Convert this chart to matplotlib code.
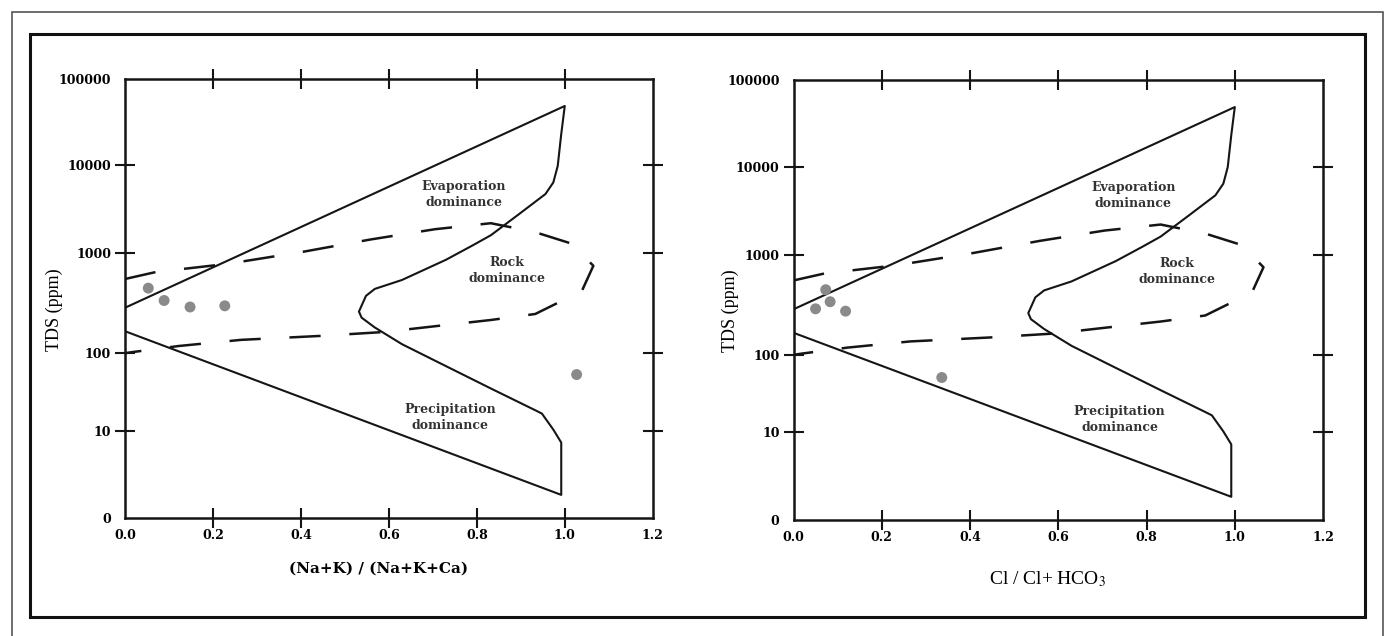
import numpy as np
import matplotlib
matplotlib.use("Agg")
import matplotlib.pyplot as plt
from matplotlib.patches import Rectangle
from matplotlib.ticker import NullLocator

# ---------------------------------------------------------------------------
# data
# ---------------------------------------------------------------------------
# Gibbs envelope, one polyline: lower edge -> right side -> nose -> upper edge
ENV_X = [0.0, 0.992, 0.992, 0.974, 0.948, 0.934, 0.832, 0.730, 0.630, 0.568,
         0.538, 0.532, 0.548, 0.568, 0.630, 0.730, 0.791, 0.832, 0.893, 0.956,
         0.974, 0.984, 0.992, 1.0, 0.0]
ENV_TDS = [166, 1.84, 7.3, 10.3, 16.6, 18.2, 35, 68, 123, 181,
           227, 261, 375, 440, 541, 862, 1234, 1606, 2720, 4720,
           6400, 9870, 23100, 48700, 285]

# rock-dominance boundary (dashed)
ROCK_X = [0.0, 0.070, 0.234, 0.406, 0.558, 0.705, 0.832, 0.933, 1.015, 1.065,
          1.040, 0.989, 0.933, 0.832, 0.750, 0.589, 0.445, 0.264, 0.122, 0.020, 0.0]
ROCK_TDS = [553, 649, 785, 1043, 1435, 1880, 2200, 1738, 1291, 750,
            430, 327, 247, 215, 196, 163, 149, 136, 118, 103, 100]

# samples
NA_RATIO = [0.053, 0.089, 0.148, 0.227, 1.027]
TDS_LEFT = [448, 337, 290, 298, 53]
CL_RATIO = [0.050, 0.083, 0.073, 0.118, 0.336]
TDS_RIGHT = [288, 339, 447, 273, 51]

X_TICKS = [0.0, 0.2, 0.4, 0.6, 0.8, 1.0, 1.2]
X_LABELS = ["0.0", "0.2", "0.4", "0.6", "0.8", "1.0", "1.2"]
Y_TICKS = [1, 10, 100, 1000, 10000, 100000]
Y_LABELS = ["0", "10", "100", "1000", "10000", "100000"]

REGIONS = [("Evaporation\ndominance", 0.77, 4720),
           ("Rock\ndominance", 0.868, 680),
           ("Precipitation\ndominance", 0.739, 14.7)]

# the hand-drawn log axis has uneven decades; map log10(TDS) onto them
DECADE = [0, 1, 2, 3, 4, 5]
DECADE_POS = [0, 87.5, 165, 265, 353, 439.5]


def fwd(v):
    v = np.clip(np.asarray(v, dtype=float), 1e-3, None)
    return np.interp(np.log10(v), DECADE, DECADE_POS)


def inv(p):
    return 10 ** np.interp(p, DECADE_POS, DECADE)


TICK_FONT = dict(family="DejaVu Serif", weight="bold", size=9)


def gibbs_panel(ax, xs, tds, xlabel, xlabel_kw, ylab_x, xlab_y):
    ax.set_yscale("function", functions=(fwd, inv))
    ax.plot(ENV_X, ENV_TDS, color="#151515", lw=1.5, solid_joinstyle="round")
    ax.plot(ROCK_X, ROCK_TDS, color="#151515", lw=1.8, ls=(0, (12.5, 11.5)))
    ax.scatter(xs, tds, s=62, color="#8a8a8a", edgecolors="none", zorder=3)

    for txt, x, y in REGIONS:
        ax.text(x, y, txt, ha="center", va="center", ma="center",
                linespacing=1.3, color="#333333",
                family="DejaVu Serif", weight="bold", size=9)

    ax.set_xlim(0, 1.2)
    ax.set_ylim(1, 100000)
    ax.set_xticks(X_TICKS)
    ax.set_xticklabels(X_LABELS, fontdict=TICK_FONT)
    ax.set_yticks(Y_TICKS)
    ax.set_yticklabels(Y_LABELS, fontdict=TICK_FONT)
    ax.yaxis.set_minor_locator(NullLocator())
    ax.xaxis.set_minor_locator(NullLocator())
    ax.tick_params(direction="inout", length=14, width=1.5, color="#151515",
                   top=True, right=True, pad=3)
    ax.tick_params(axis="x", pad=1)
    # corner ticks are not drawn in the original
    for t in (ax.xaxis.get_major_ticks()[0], ax.xaxis.get_major_ticks()[-1],
              ax.yaxis.get_major_ticks()[0], ax.yaxis.get_major_ticks()[-1]):
        t.tick1line.set_visible(False)
        t.tick2line.set_visible(False)
    for s in ax.spines.values():
        s.set_linewidth(1.8)
        s.set_color("#151515")

    ax.set_ylabel("TDS (ppm)", family="Liberation Serif", size=13)
    ax.yaxis.set_label_coords(ylab_x, 0.475)
    ax.set_xlabel(xlabel, **xlabel_kw)
    ax.xaxis.set_label_coords(0.48, xlab_y)


plt.rcParams["mathtext.fontset"] = "stix"
fig = plt.figure(figsize=(13.87, 6.36), dpi=100)

ax1 = fig.add_axes([0.0901, 0.1855, 0.3805, 0.6903])
ax2 = fig.add_axes([0.5721, 0.1824, 0.3818, 0.6918])

gibbs_panel(ax1, NA_RATIO, TDS_LEFT, "(Na+K) / (Na+K+Ca)",
            dict(family="DejaVu Serif", weight="bold", size=11),
            -0.118, -0.10)
gibbs_panel(ax2, CL_RATIO, TDS_RIGHT, r"Cl / Cl+ HCO$_3$",
            dict(family="Liberation Serif", size=14),
            -0.103, -0.112)

# double frame round the whole figure
fig.add_artist(Rectangle((0.0087, -0.02), 0.9884, 1.0011, transform=fig.transFigure,
                         fill=False, lw=1.2, ec="#555555"))
fig.add_artist(Rectangle((0.0216, 0.0299), 0.9625, 0.9166, transform=fig.transFigure,
                         fill=False, lw=2.2, ec="#111111"))

fig.savefig("out.png", dpi=100)
